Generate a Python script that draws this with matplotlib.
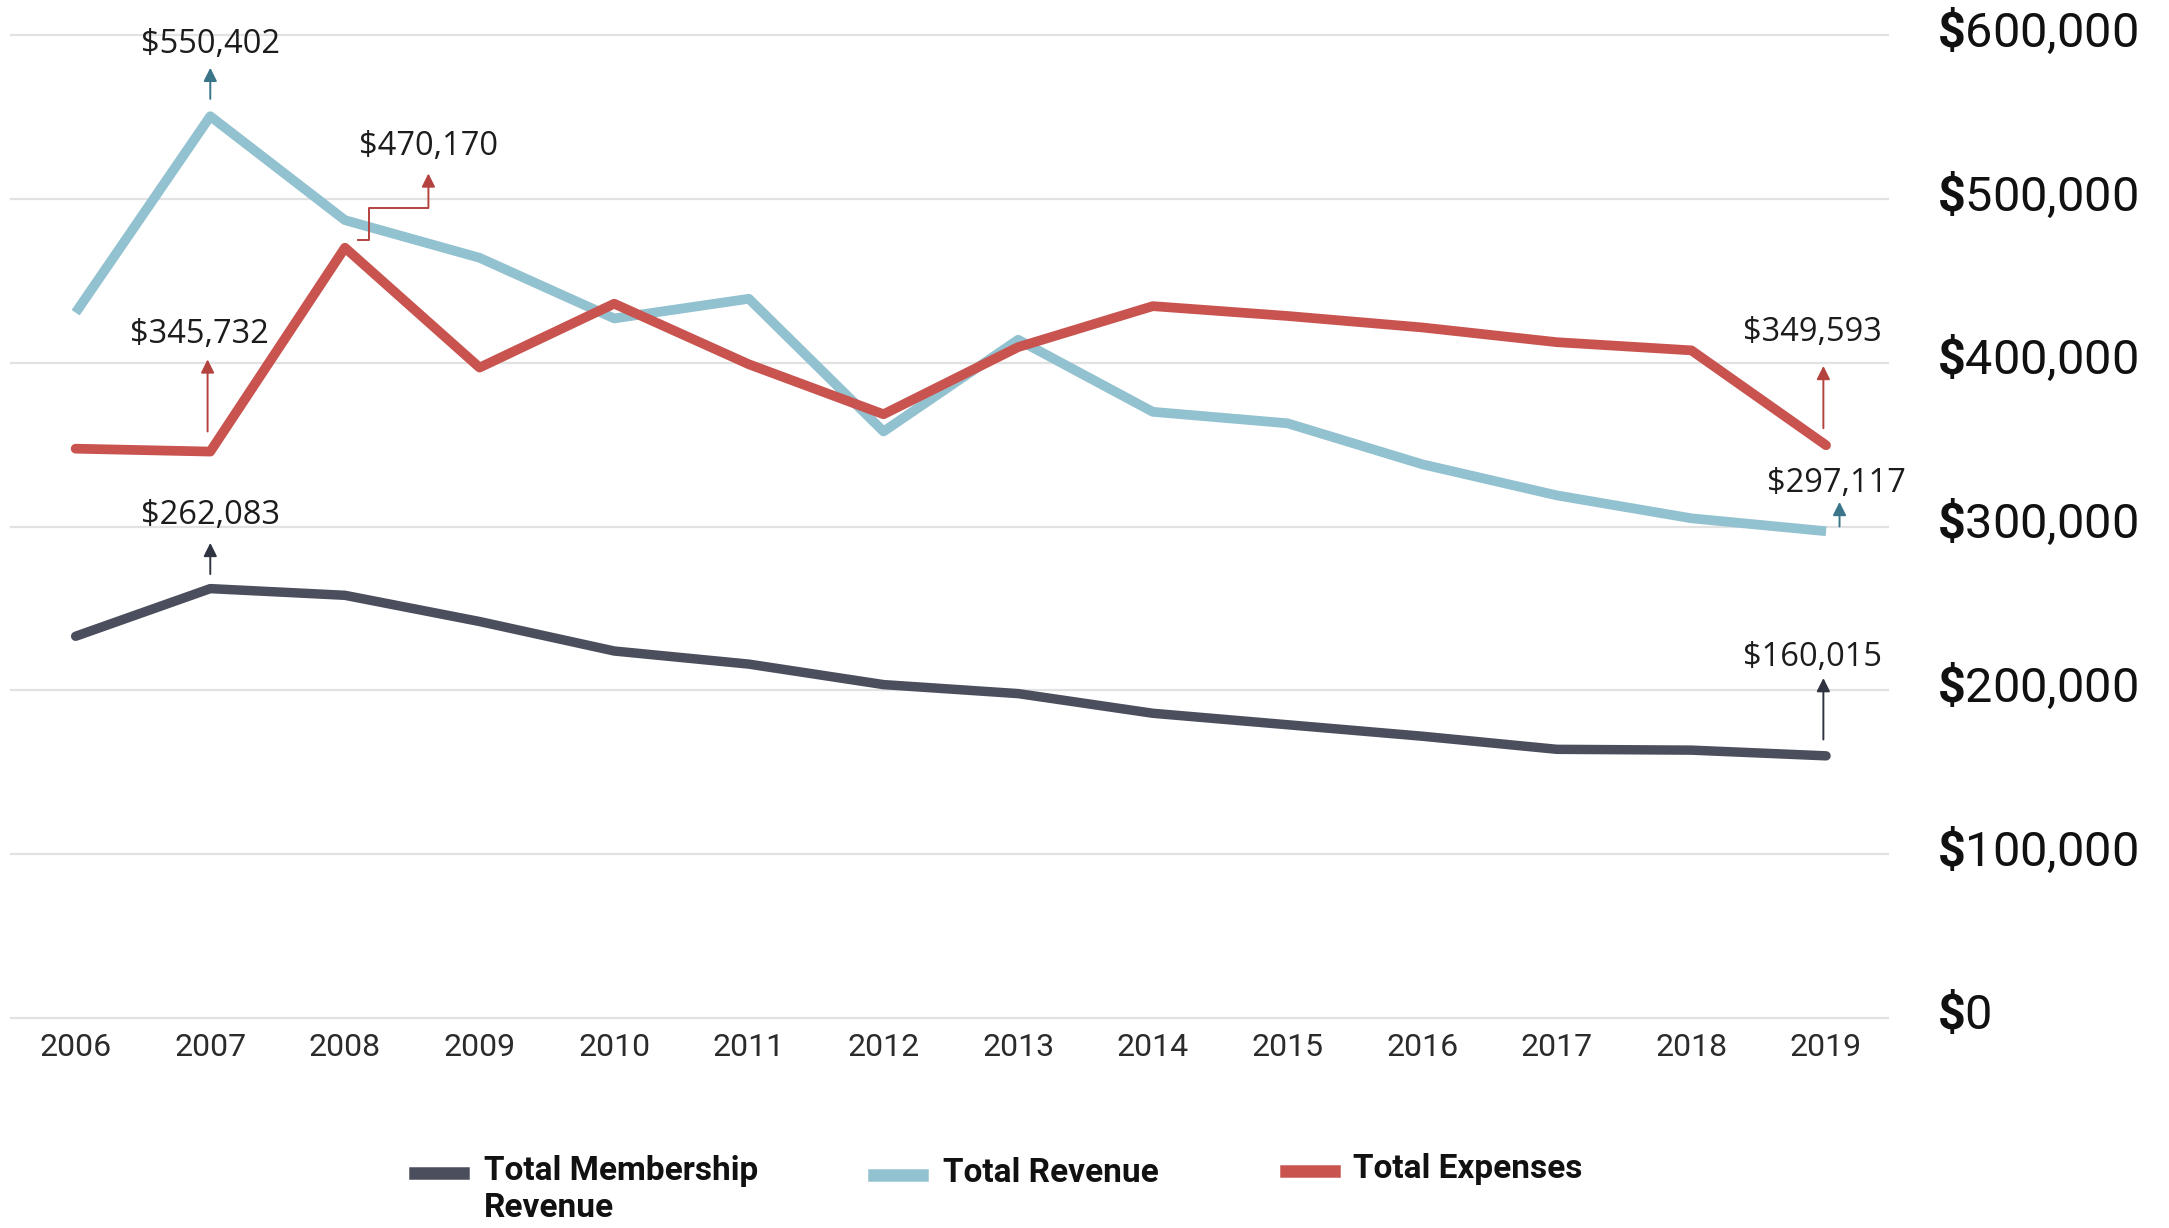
import matplotlib
matplotlib.use("Agg")
import matplotlib.pyplot as plt
import matplotlib.transforms as mtransforms
from matplotlib.lines import Line2D

# ---- data ----
years = list(range(2006, 2020))
membership = [233000, 262083, 258000, 242000, 224000, 216000, 203500,
              198000, 186000, 179000, 172000, 164000, 163500, 160015]
revenue = [430500, 550402, 487000, 464000, 427000, 439000, 358000,
           414000, 370000, 363000, 338000, 319000, 305000, 297117]
expenses = [347500, 345732, 470170, 397000, 436000, 399000, 368500,
            409500, 434500, 428500, 421500, 412500, 407500, 349593]
y_ticks = [0, 100000, 200000, 300000, 400000, 500000, 600000]
series_names = ["Total Membership\nRevenue", "Total Revenue", "Total Expenses"]

# ---- colors ----
C_MEMB = "#4b4e5c"
C_REV = "#92c1d0"
C_EXP = "#c8534f"
A_MEMB = "#2f3440"
A_REV = "#3a7589"
A_EXP = "#b4433f"

plt.rcParams["mathtext.fontset"] = "custom"
plt.rcParams["mathtext.bf"] = "Roboto:bold"
plt.rcParams["mathtext.rm"] = "Roboto"

W, H = 2169, 1228
fig = plt.figure(figsize=(W / 100, H / 100), dpi=100)
ax = fig.add_axes([11 / W, 1 - 1018 / H, (1888 - 11) / W, (1018 - 35) / H])

ax.plot(years, membership, color=C_MEMB, lw=6.8, solid_capstyle="round", clip_on=False, zorder=3)
ax.plot(years, revenue, color=C_REV, lw=7, solid_capstyle="butt", clip_on=False, zorder=3)
ax.plot(years, expenses, color=C_EXP, lw=7, solid_capstyle="round", clip_on=False, zorder=4)

ax.set_xlim(2005.52, 2019.46)
ax.set_ylim(0, 600000)
ax.set_xticks(years)
ax.set_yticks(y_ticks)
ax.set_yticklabels([r"$\mathbf{\$}$" + f"{v:,}" for v in y_ticks])
ax.yaxis.tick_right()
ax.tick_params(axis="y", length=0, pad=35, labelsize=35, labelcolor="#111111")
ax.tick_params(axis="x", length=0, pad=11, labelsize=23, labelcolor="#2b2b2b")
# labels sit a little above their gridlines in the original
lift = mtransforms.ScaledTranslation(0, 6 / 72, fig.dpi_scale_trans)
for lab in ax.get_yticklabels():
    lab.set_fontfamily("Roboto")
    lab.set_transform(lab.get_transform() + lift)
for lab in ax.get_xticklabels():
    lab.set_fontfamily("Roboto")

ax.grid(axis="y", color="#e2e2e2", lw=1.6)
for gl in ax.yaxis.get_gridlines():
    gl.set_clip_on(False)
ax.set_axisbelow(True)
for s in ax.spines.values():
    s.set_visible(False)


# ---- value callouts ----
def callout(text, tx, ty, ax_x, tail, head, color):
    ax.annotate("", xy=(ax_x, head), xytext=(ax_x, tail),
                arrowprops=dict(arrowstyle="-|>", color=color, lw=1.4,
                                mutation_scale=20, shrinkA=0, shrinkB=0),
                annotation_clip=False, zorder=5)
    ax.text(tx, ty, text, ha="center", va="center", fontsize=23.5,
            family="Open Sans", color="#1c1c1c", zorder=6)


callout(f"${revenue[1]:,}", 2007.0, 594000, 2007.0, 561000, 580000, A_REV)
callout(f"${expenses[1]:,}", 2006.92, 417000, 2006.98, 358000, 402000, A_EXP)
callout(f"${membership[1]:,}", 2007.0, 307000, 2007.0, 271000, 290000, A_MEMB)
callout(f"${expenses[-1]:,}", 2018.9, 418500, 2018.98, 360000, 398000, A_EXP)
callout(f"${revenue[-1]:,}", 2019.08, 326000, 2019.1, 300000, 315000, A_REV)
callout(f"${membership[-1]:,}", 2018.9, 220000, 2018.98, 170000, 207500, A_MEMB)

# elbow callout for 2008 expenses
ax.plot([2008.10, 2008.18, 2008.18, 2008.62], [475000, 475000, 494500, 494500],
        color=A_EXP, lw=1.4, zorder=5)
callout(f"${expenses[2]:,}", 2008.62, 532000, 2008.62, 494500, 515500, A_EXP)

# ---- legend (drawn by hand, first line aligned with the swatch) ----
leg_items = [
    (415, 1173, 484, C_MEMB, series_names[0]),
    (874, 1175, 943, C_REV, series_names[1]),
    (1286, 1171, 1353, C_EXP, series_names[2]),
]
for x0, yy, tx, col, name in leg_items:
    fig.add_artist(Line2D([x0 / W, (x0 + 48) / W], [1 - yy / H, 1 - yy / H],
                          color=col, lw=9, transform=fig.transFigure))
    fig.text(tx / W, 1 - (yy - 18) / H, name, ha="left", va="top",
             fontsize=24, fontweight="bold", family="Roboto",
             color="#111111", linespacing=1.2)

fig.savefig("out.png", dpi=100, facecolor="white")
